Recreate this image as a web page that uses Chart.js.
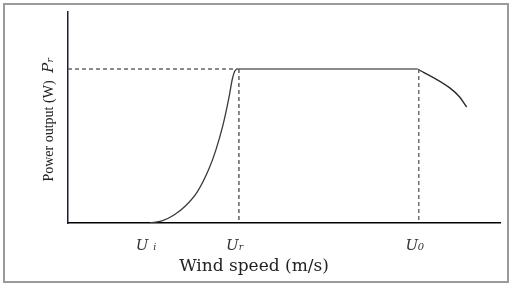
<!DOCTYPE html>
<html>
<head>
<meta charset="utf-8">
<script src="https://cdn.jsdelivr.net/npm/chart.js@4/dist/chart.umd.min.js"></script>
<style>
  html, body { margin: 0; padding: 0; background: #fff; }
  #wrap { width: 513px; height: 287px; }
</style>
</head>
<body>
<div id="wrap"><canvas id="chart-area" width="513" height="287"></canvas></div>
<script>
// wind speed in arbitrary units, power as fraction of rated power
var rampSpeed = [3.49, 4.0, 4.5, 5.0, 5.5, 6.0, 6.3, 6.6, 6.85, 7.0, 7.1, 7.19];
var rampPower = [0, 0.014, 0.05, 0.11, 0.2, 0.35, 0.475, 0.635, 0.81, 0.935, 0.985, 1.0];
var ratedSpeed = [7.19, 14.89];
var ratedPower = [1, 1];
var cutoutSpeed = [14.89, 16.26, 16.68, 16.98];
var cutoutPower = [1, 0.877, 0.818, 0.753];
var tickSpeeds = [3.49, 7.28, 14.94];
var tickLabels = ['U \u1d62', 'U\u1d63', 'U\u2080'];
var prLabel = 'P\u1d63';
var xTitle = 'Wind speed (m/s)';
var yTitle = 'Power output (W)';

function pts(xs, ys) {
    return xs.map(function (x, i) { return { x: x, y: ys[i] }; });
}

var dashed = {
    borderColor: '#555',
    borderWidth: 1.4,
    borderDash: [4, 3],
    pointRadius: 0,
    fill: false
};

var labelsPlugin = {
    id: 'labels',
    beforeDraw: function (chart) {
        var c = chart.ctx;
        c.save();
        c.fillStyle = '#fff';
        c.fillRect(0, 0, chart.width, chart.height);
        c.strokeStyle = '#9a9a9a';
        c.lineWidth = 2;
        c.strokeRect(4, 4, 504, 278);
        c.restore();
    },
    afterDraw: function (chart) {
        var c = chart.ctx;
        var y = chart.scales.y;
        c.save();
        c.fillStyle = '#222';
        c.textAlign = 'center';
        c.textBaseline = 'middle';
        c.font = '17px "DejaVu Serif"';
        c.fillText(xTitle, 254, 267);
        c.translate(49, 131);
        c.rotate(-Math.PI / 2);
        c.font = '14px "Liberation Serif"';
        c.fillText(yTitle, 0, 0);
        c.restore();
        c.save();
        c.fillStyle = '#222';
        c.textAlign = 'center';
        c.textBaseline = 'middle';
        c.translate(49, y.getPixelForValue(1) - 4);
        c.rotate(-Math.PI / 2);
        c.font = 'italic 15px "DejaVu Serif"';
        c.fillText(prLabel, 0, 0);
        c.restore();
    }
};

var config = {
    type: 'line',
    data: {
        datasets: [
            Object.assign({}, dashed, { data: pts([0, 7.19], [1, 1]), borderColor: '#666' }),
            Object.assign({}, dashed, { data: pts([7.28, 7.28], [1, 0]) }),
            Object.assign({}, dashed, { data: pts([14.94, 14.94], [1, 0]), borderColor: '#666' }),
            {
                data: pts(ratedSpeed, ratedPower),
                borderColor: '#8a8a8a',
                borderWidth: 2.2,
                pointRadius: 0
            },
            {
                data: pts(rampSpeed, rampPower),
                borderColor: '#3a3a3a',
                borderWidth: 1.3,
                pointRadius: 0,
                cubicInterpolationMode: 'monotone'
            },
            {
                data: pts(cutoutSpeed, cutoutPower),
                borderColor: '#2a2a2a',
                borderWidth: 1.4,
                pointRadius: 0,
                cubicInterpolationMode: 'monotone'
            }
        ]
    },
    options: {
        responsive: false,
        animation: false,
        layout: { padding: { left: 68, right: 13, top: 12, bottom: 18 } },
        plugins: {
            legend: { display: false },
            tooltip: { enabled: false }
        },
        scales: {
            x: {
                type: 'linear',
                min: 0,
                max: 18.4,
                afterBuildTicks: function (scale) {
                    scale.ticks = tickSpeeds.map(function (v) { return { value: v }; });
                },
                grid: { display: false, drawTicks: false },
                border: { display: true, color: '#000', width: 1.5 },
                ticks: {
                    padding: 14,
                    labelOffset: -4,
                    maxRotation: 0,
                    autoSkip: false,
                    color: '#333',
                    font: { family: '"DejaVu Serif"', size: 15, style: 'italic' },
                    callback: function (v, i) { return tickLabels[i]; }
                }
            },
            y: {
                type: 'linear',
                min: 0,
                max: 1.37,
                grid: { display: false, drawTicks: false },
                border: { display: true, color: '#1c1c3a', width: 1.5 },
                ticks: { display: false }
            }
        }
    },
    plugins: [labelsPlugin]
};

var ctx = document.getElementById('chart-area').getContext('2d');
var chart = new Chart(ctx, config);
</script>
</body>
</html>
